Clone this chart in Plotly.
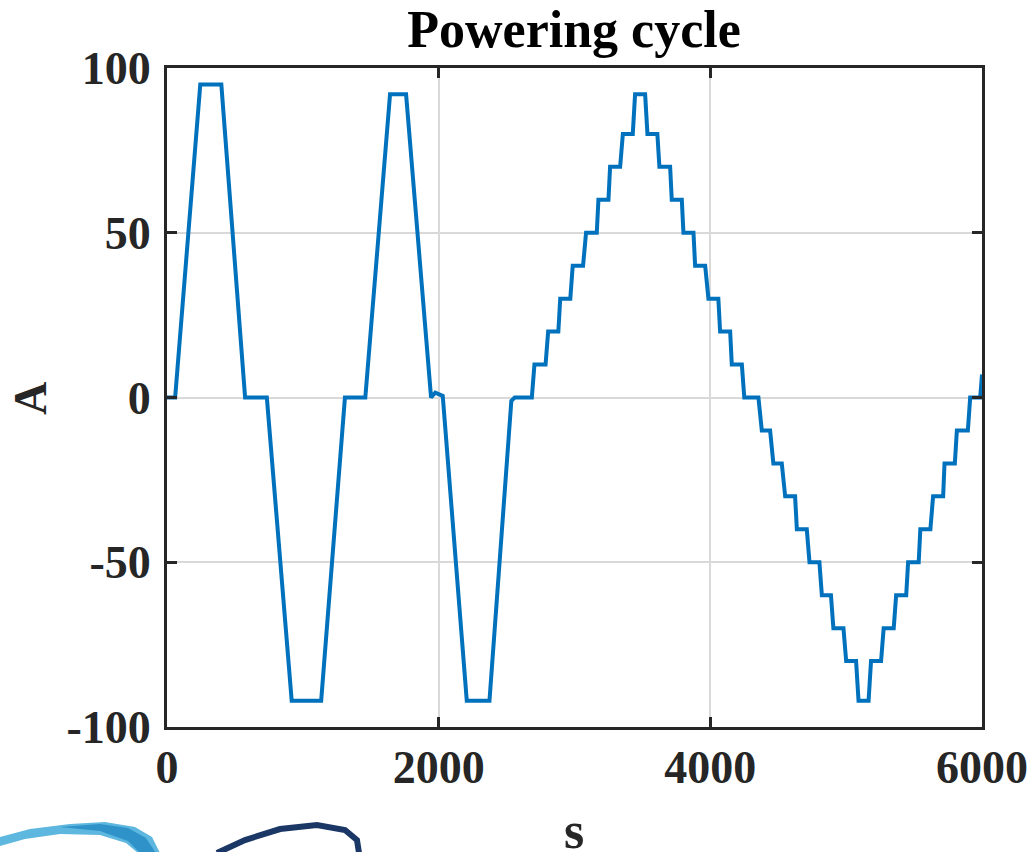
import plotly.graph_objects as go

# ---- data ----
time_s = [0, 60, 245, 400, 575, 735, 918, 1135, 1310, 1460, 1642, 1760, 1944, 1975, 2030,
          2207, 2374, 2535, 2560, 2686,
          2705, 2787, 2806, 2881, 2895, 2969, 2987, 3063, 3085, 3164, 3176, 3250,
          3262, 3336, 3356, 3429, 3446, 3520,
          3537, 3610, 3625, 3704, 3716, 3790, 3802, 3876, 3888, 3962, 3986, 4059,
          4072, 4146, 4158, 4232, 4250, 4354,
          4379, 4440, 4464, 4526, 4551, 4624, 4637, 4710, 4730, 4803, 4821, 4888,
          4906, 4980, 5000, 5073, 5091, 5165,
          5183, 5257, 5276, 5350, 5368, 5442, 5456, 5534, 5546, 5620, 5640, 5714,
          5724, 5800, 5815, 5896, 5913, 5987, 6000]
current_A = [0, 0, 95, 95, 0, 0, -92, -92, 0, 0, 92, 92, 0, 1.5, 0.5,
             -92, -92, -1, 0, 0,
             10, 10, 20, 20, 30, 30, 40, 40, 50, 50, 60, 60,
             70, 70, 80, 80, 92, 92,
             80, 80, 70, 70, 60, 60, 50, 50, 40, 40, 30, 30,
             20, 20, 10, 10, 0, 0,
             -10, -10, -20, -20, -30, -30, -40, -40, -50, -50, -60, -60,
             -70, -70, -80, -80, -92, -92,
             -80, -80, -70, -70, -60, -60, -50, -50, -40, -40, -30, -30,
             -20, -20, -10, -10, 0, 0, 7]

x_ticks = [0, 2000, 4000, 6000]
y_ticks = [-100, -50, 0, 50, 100]

title_text = "Powering cycle"
x_label = "s"
y_label = "A"

# ---- layout geometry (pixels) ----
W, H = 1033, 852
L, R, T, B = 167, 982, 68, 727

def px(x):
    return (x - L) / (R - L)

def py(y):
    return (B - y) / (B - T)

FONT = "Liberation Serif, Times New Roman, serif"
AXC = "#262626"

fig = go.Figure()
fig.add_trace(go.Scatter(x=time_s, y=current_A, mode="lines",
                         line=dict(color="#0072BD", width=4), showlegend=False,
                         hoverinfo="x+y"))

axis_common = dict(showline=True, linewidth=3, linecolor=AXC, mirror="ticks",
                   ticks="inside", ticklen=10, tickwidth=3, tickcolor=AXC,
                   showgrid=True, gridcolor="#d9d9d9", gridwidth=2, zeroline=False,
                   tickfont=dict(family=FONT, size=46, color=AXC, weight="bold"))

fig.update_layout(
    width=W, height=H,
    margin=dict(l=L, r=W - R, t=T, b=H - B, autoexpand=False),
    paper_bgcolor="white", plot_bgcolor="white",
    title=dict(text=title_text, x=px(574), xanchor="center", xref="paper",
               y=1 - 29 / H, yanchor="middle", yref="container",
               font=dict(family=FONT, size=52, color="black", weight="bold")),
    xaxis=dict(range=[0, 6000], tickvals=x_ticks, ticktext=[str(v) for v in x_ticks],
               ticklabelstandoff=-2, **axis_common),
    yaxis=dict(range=[-100, 100], tickvals=y_ticks, ticktext=[str(v) for v in y_ticks],
               ticklabelstandoff=4, **axis_common),
)

fig.add_annotation(text=x_label, x=px(574), y=py(830), xref="paper", yref="paper",
                   showarrow=False, xanchor="center", yanchor="middle",
                   font=dict(family=FONT, size=52, color=AXC, weight="bold"))
fig.add_annotation(text=y_label, x=px(30), y=py(399), xref="paper", yref="paper",
                   showarrow=False, xanchor="center", yanchor="middle", textangle=-90,
                   font=dict(family=FONT, size=46, color=AXC, weight="bold"))

# partial logo at bottom-left (decoration)
def path(points, close=True):
    s = "M " + " L ".join(f"{px(a):.4f},{py(b):.4f}" for a, b in points)
    return s + (" Z" if close else "")

swoosh = [(0, 837), (30, 829), (70, 824), (105, 822), (135, 827), (152, 837), (160, 853),
          (138, 853), (126, 843), (100, 835), (60, 834), (25, 839), (0, 846)]
fig.add_shape(type="path", path=path(swoosh), xref="paper", yref="paper",
              fillcolor="#5db7df", line=dict(width=0), layer="above")
swoosh2 = [(60, 827), (100, 824), (128, 828), (146, 838), (156, 853),
           (140, 853), (128, 841), (100, 831)]
fig.add_shape(type="path", path=path(swoosh2), xref="paper", yref="paper",
              fillcolor="#2f93c9", line=dict(width=0), layer="above")
arc = [(217, 853), (245, 840), (280, 829), (317, 825), (345, 830), (357, 840), (359, 853)]
fig.add_shape(type="path", path=path(arc, close=False), xref="paper", yref="paper",
              line=dict(color="#1b3766", width=6), layer="above")

fig.write_html("out.html", config={"displayModeBar": False},
               post_script="document.body.style.margin='0';document.body.style.overflow='hidden';")
